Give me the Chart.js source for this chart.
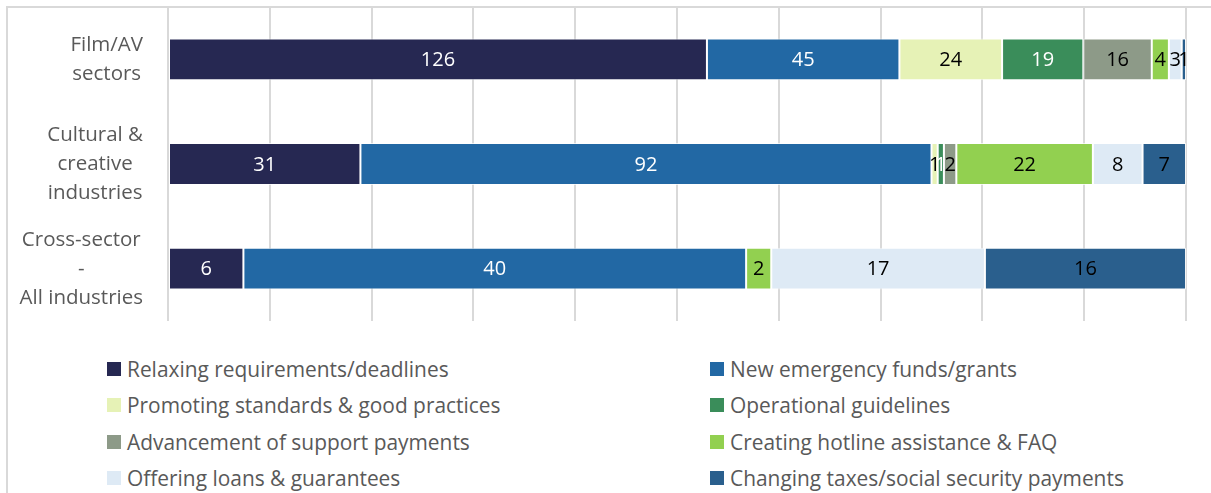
<!DOCTYPE html>
<html>
<head>
<meta charset="utf-8">
<script src="https://cdn.jsdelivr.net/npm/chart.js@4/dist/chart.umd.min.js"></script>
<style>
  html, body { margin: 0; padding: 0; background: #ffffff; }
  body { width: 1211px; height: 493px; position: relative; overflow: hidden; font-family: "Open Sans", sans-serif; }
  #frame { position: absolute; left: 6px; top: 6px; width: 1400px; height: 700px; border-left: 2px solid #d9d9d9; border-top: 2px solid #d9d9d9; }
  #wrap { position: absolute; left: 0; top: 0; width: 1211px; height: 340px; }
  #legend { position: absolute; left: 0; top: 350px; width: 1211px; }
  .li { position: absolute; display: flex; align-items: center; font-size: 20.9px; color: #595959; white-space: nowrap; height: 26px; }
  .li span.box { width: 14px; height: 14px; margin-right: 6px; display: inline-block; flex: none; }
</style>
</head>
<body>
<div id="frame"></div>
<div id="wrap"><canvas id="c" width="1211" height="340"></canvas></div>
<div id="legend"></div>
<script>
const categories = [["Film/AV", "sectors"], ["Cultural &", "creative", "industries"], ["Cross-sector", "-", "All industries"]];
const seriesNames = [
  "Relaxing requirements/deadlines",
  "New emergency funds/grants",
  "Promoting standards & good practices",
  "Operational guidelines",
  "Advancement of support payments",
  "Creating hotline assistance & FAQ",
  "Offering loans & guarantees",
  "Changing taxes/social security payments"
];
const relaxing    = [126, 31, 6];
const emergency   = [45, 92, 40];
const promoting   = [24, 1, 0];
const operational = [19, 1, 0];
const advancement = [16, 2, 0];
const hotline     = [4, 22, 2];
const loans       = [3, 8, 17];
const taxes       = [1, 7, 16];
const xTicks = [0, 10, 20, 30, 40, 50, 60, 70, 80, 90, 100];

const seriesValues = [relaxing, emergency, promoting, operational, advancement, hotline, loans, taxes];
const colors = ["#262852", "#2268a4", "#e6f2b6", "#3a8d5a", "#8d9a88", "#92d050", "#deeaf5", "#2a5f8d"];
const labelColors = ["#ffffff", "#ffffff", "#000000", "#ffffff", "#000000", "#000000", "#000000", "#000000"];
const FONT = '"Open Sans", sans-serif';

const totals = categories.map((_, j) => seriesValues.reduce((s, arr) => s + arr[j], 0));

const datasets = seriesNames.map((name, i) => ({
  label: name,
  data: seriesValues[i].map((v, j) => v / totals[j] * 100),
  backgroundColor: colors[i],
  borderColor: "rgba(255,255,255,0.7)",
  borderWidth: 1,
  borderSkipped: false,
  barPercentage: 0.4,
  categoryPercentage: 1.0
}));

const valueLabels = {
  id: "valueLabels",
  afterDatasetsDraw(chart) {
    const ctx = chart.ctx;
    ctx.save();
    ctx.font = "20px " + FONT;
    ctx.textAlign = "center";
    ctx.textBaseline = "middle";
    chart.data.datasets.forEach((ds, i) => {
      const meta = chart.getDatasetMeta(i);
      meta.data.forEach((el, j) => {
        const v = seriesValues[i][j];
        if (!v) return;
        const p = el.getProps(["x", "base", "y"], true);
        ctx.fillStyle = labelColors[i];
        ctx.fillText(String(v), (p.x + p.base) / 2, p.y + 1);
      });
    });
    ctx.restore();
  }
};

const catLabels = {
  id: "catLabels",
  afterDraw(chart) {
    const ctx = chart.ctx;
    const ys = chart.scales.y;
    ctx.save();
    ctx.font = "20.5px " + FONT;
    ctx.fillStyle = "#595959";
    ctx.textAlign = "center";
    ctx.textBaseline = "middle";
    const lh = 29;
    const right = 143;
    categories.forEach((lines, j) => {
      const cy = ys.getPixelForValue(j);
      const w = Math.max(...lines.map(l => ctx.measureText(l).width));
      const cx = right - w / 2;
      const y0 = cy - (lines.length - 1) * lh / 2;
      lines.forEach((l, k) => ctx.fillText(l, cx, y0 + k * lh));
    });
    ctx.restore();
  }
};

const chart = new Chart(document.getElementById("c"), {
  type: "bar",
  data: { labels: categories.map(c => c.join(" ")), datasets },
  options: {
    indexAxis: "y",
    responsive: false,
    animation: false,
    devicePixelRatio: 1,
    layout: { padding: { left: 0, right: 25, top: 7, bottom: 19 } },
    plugins: { legend: { display: false }, tooltip: { enabled: false } },
    scales: {
      x: {
        stacked: true,
        min: 0, max: 100,
        afterBuildTicks: s => { s.ticks = xTicks.map(v => ({ value: v })); },
        ticks: { display: false },
        grid: { color: "#d9d9d9", lineWidth: 2, drawTicks: false },
        border: { display: false },
        afterFit: s => { s.height = 0; }
      },
      y: {
        stacked: true,
        ticks: { display: false },
        grid: { display: false },
        border: { display: false },
        afterFit: s => { s.width = 168; }
      }
    }
  },
  plugins: [valueLabels, catLabels]
});

// HTML legend, two columns
const legend = document.getElementById("legend");
const colX = [107, 710];
const rowY = [6, 42, 79, 115];
seriesNames.forEach((name, i) => {
  const d = document.createElement("div");
  d.className = "li";
  d.style.left = colX[i % 2] + "px";
  d.style.top = rowY[Math.floor(i / 2)] + "px";
  const b = document.createElement("span");
  b.className = "box";
  b.style.background = colors[i];
  d.appendChild(b);
  d.appendChild(document.createTextNode(name));
  legend.appendChild(d);
});
</script>
</body>
</html>
